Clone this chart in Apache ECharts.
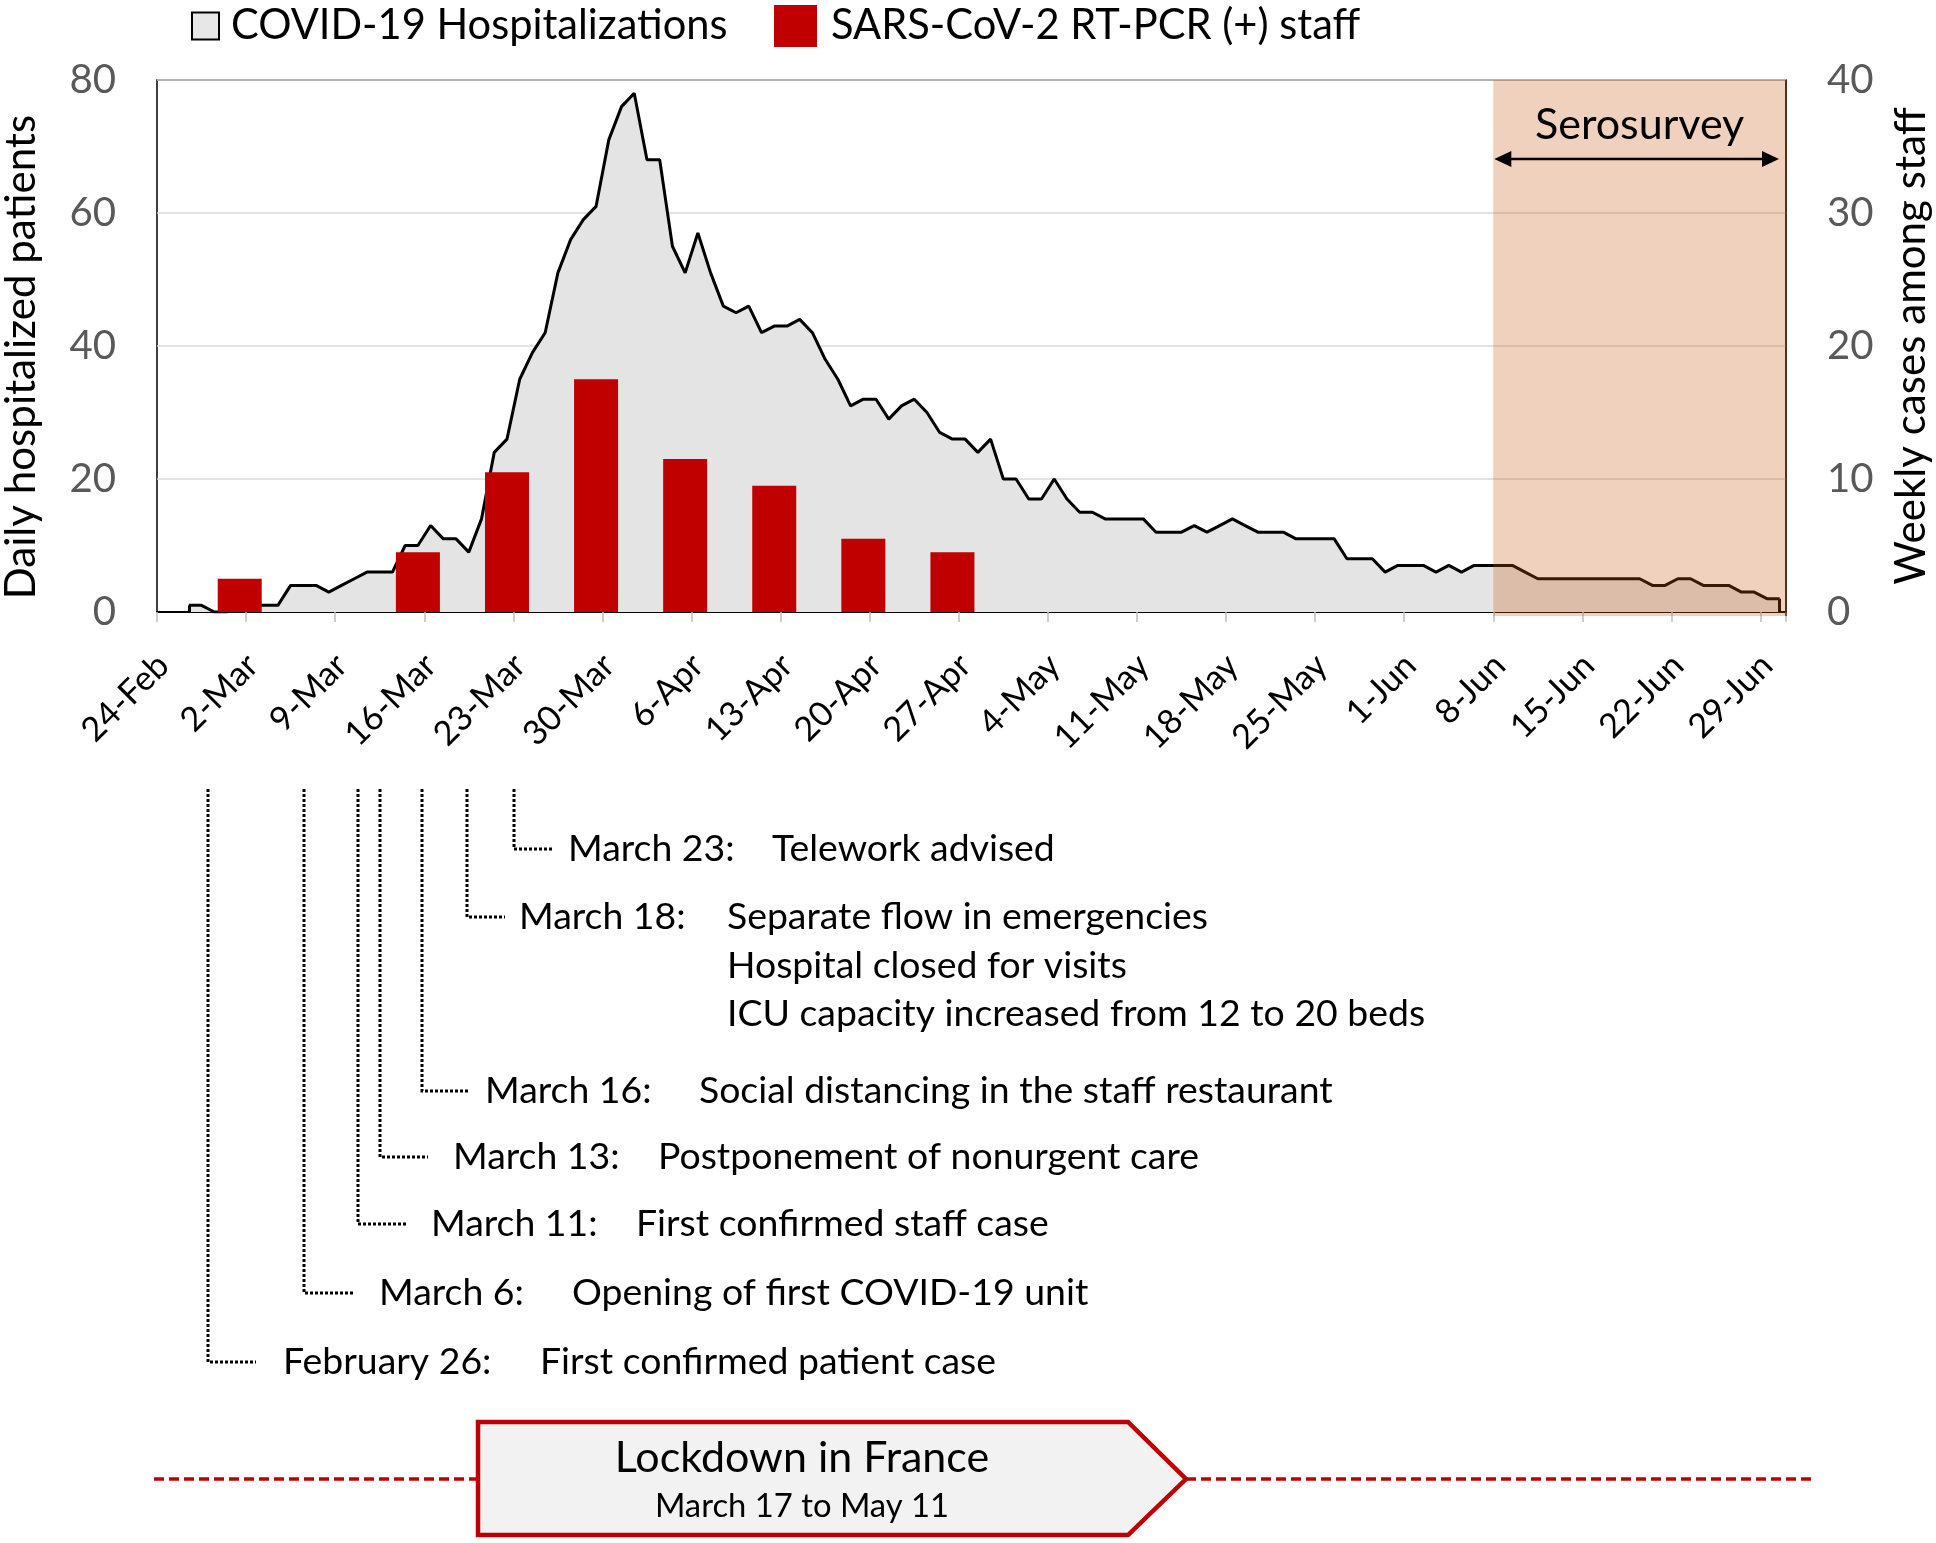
<!DOCTYPE html>
<html><head><meta charset="utf-8">
<script src="https://cdn.jsdelivr.net/npm/echarts@6/dist/echarts.min.js"></script>
<style>html,body{margin:0;padding:0;background:#fff}#c{width:1936px;height:1543px}</style>
</head><body><div id="c"></div>
<script>
// ---------- DATA ----------
const days = [
 '24-Feb','25-Feb','26-Feb','27-Feb','28-Feb','29-Feb',
 '1-Mar','2-Mar','3-Mar','4-Mar','5-Mar','6-Mar','7-Mar','8-Mar','9-Mar','10-Mar','11-Mar','12-Mar','13-Mar','14-Mar','15-Mar','16-Mar','17-Mar','18-Mar','19-Mar','20-Mar','21-Mar','22-Mar','23-Mar','24-Mar','25-Mar','26-Mar','27-Mar','28-Mar','29-Mar','30-Mar','31-Mar',
 '1-Apr','2-Apr','3-Apr','4-Apr','5-Apr','6-Apr','7-Apr','8-Apr','9-Apr','10-Apr','11-Apr','12-Apr','13-Apr','14-Apr','15-Apr','16-Apr','17-Apr','18-Apr','19-Apr','20-Apr','21-Apr','22-Apr','23-Apr','24-Apr','25-Apr','26-Apr','27-Apr','28-Apr','29-Apr','30-Apr',
 '1-May','2-May','3-May','4-May','5-May','6-May','7-May','8-May','9-May','10-May','11-May','12-May','13-May','14-May','15-May','16-May','17-May','18-May','19-May','20-May','21-May','22-May','23-May','24-May','25-May','26-May','27-May','28-May','29-May','30-May','31-May',
 '1-Jun','2-Jun','3-Jun','4-Jun','5-Jun','6-Jun','7-Jun','8-Jun','9-Jun','10-Jun','11-Jun','12-Jun','13-Jun','14-Jun','15-Jun','16-Jun','17-Jun','18-Jun','19-Jun','20-Jun','21-Jun','22-Jun','23-Jun','24-Jun','25-Jun','26-Jun','27-Jun','28-Jun','29-Jun','30-Jun'
];
const tickLabels = ['24-Feb','2-Mar','9-Mar','16-Mar','23-Mar','30-Mar','6-Apr','13-Apr','20-Apr','27-Apr','4-May','11-May','18-May','25-May','1-Jun','8-Jun','15-Jun','22-Jun','29-Jun'];
const hospitalized = [
 null,null,1,1,0,0,1,1,1,1,
 4,4,4,3,4,5,6,6,6,10,
 10,13,11,11,9,14,24,26,35,39,
 42,51,56,59,61,71,76,78,68,68,
 55,51,57,51,46,45,46,42,43,43,
 44,42,38,35,31,32,32,29,31,32,
 30,27,26,26,24,26,20,20,17,17,
 20,17,15,15,14,14,14,14,12,12,
 12,13,12,13,14,13,12,12,12,11,
 11,11,11,8,8,8,6,7,7,7,
 6,7,6,7,7,7,7,6,5,5,
 5,5,5,5,5,5,5,4,4,5,
 5,4,4,4,3,3,2,2
];
const staffWeeks = ['1-Mar','8-Mar','15-Mar','22-Mar','29-Mar','5-Apr','12-Apr','19-Apr','26-Apr'];
const staffCases = [2.5,0,4.5,10.5,17.5,11.5,9.5,5.5,4.5];
const leftTicks = [0,20,40,60,80];
const rightTicks = [0,10,20,30,40];
const serosurveyStart = '8-Jun';
const serosurveyEnd = '30-Jun';

const annotations = [
 {date:'March 23:', lines:['Telework advised']},
 {date:'March 18:', lines:['Separate flow in emergencies','Hospital closed for visits','ICU capacity increased from 12 to 20 beds']},
 {date:'March 16:', lines:['Social distancing in the staff restaurant']},
 {date:'March 13:', lines:['Postponement of nonurgent care']},
 {date:'March 11:', lines:['First confirmed staff case']},
 {date:'March 6:', lines:['Opening of first COVID-19 unit']},
 {date:'February 26:', lines:['First confirmed patient case']}
];
// layout of the annotation block (pixels)
const annLayout = [
 {x:514, y:849, hx:552, dateX:568, textX:772},
 {x:467, y:917, hx:505, dateX:519, textX:727},
 {x:422, y:1091, hx:470, dateX:485, textX:699},
 {x:380, y:1157, hx:428, dateX:453, textX:658},
 {x:358, y:1224, hx:406, dateX:431, textX:636},
 {x:304, y:1293, hx:354, dateX:379, textX:572},
 {x:208, y:1362, hx:256, dateX:283, textX:540}
];

// ---------- FONT SIZING (Calibri-like sizes mapped to Lato) ----------
const FONT = 'Lato';
const mc = document.createElement('canvas').getContext('2d');
mc.font = '100px ' + FONT;
const K = 7.077 / (mc.measureText('Telework advised').width / 100);
const fs = c => Math.round(c * K * 10) / 10;

const staffData = days.map(d => { const k = staffWeeks.indexOf(d); return k >= 0 ? staffCases[k] : null; });
const firstDay = days[hospitalized.findIndex(v => v !== null)];
const lastDay = days[days.length - 1];

const chart = echarts.init(document.getElementById('c'), null, {renderer:'canvas'});
const option = {
  animation: false,
  backgroundColor: '#fff',
  textStyle: {fontFamily: FONT},
  grid: {left:157, right:150, top:80, bottom:931, show:true, borderColor:'#000', borderWidth:1.5, backgroundColor:'transparent', containLabel:false, outerBoundsMode:'none'},
  legend: [
    {left:191, top:5, padding:0, itemWidth:27, itemHeight:27, selectedMode:false, icon:'rect',
     data:[{name:'COVID-19 Hospitalizations', icon:'rect', itemStyle:{color:'#e7e7e7', borderColor:'#000', borderWidth:2}}],
     textStyle:{fontFamily:FONT, fontSize:fs(44.5), color:'#000', padding:[0,0,0,7]}},
    {left:774, top:5, padding:0, itemWidth:43, itemHeight:42, selectedMode:false, icon:'rect',
     data:[{name:'SARS-CoV-2 RT-PCR (+) staff', icon:'rect', itemStyle:{color:'#c00000'}}],
     textStyle:{fontFamily:FONT, fontSize:fs(44.5), color:'#000', padding:[0,0,0,9]}}
  ],
  xAxis: {
    type:'category', data: days, boundaryGap:true,
    axisLine:{show:true, lineStyle:{color:'#000', width:2}},
    axisTick:{show:true, interval:(i,v)=>tickLabels.includes(v), length:10, lineStyle:{color:'#bfbfbf', width:1.5}},
    axisLabel:{interval:(i,v)=>tickLabels.includes(v), rotate:45, fontFamily:FONT, fontSize:fs(36.5), color:'#000', margin:48},
    splitLine:{show:false}
  },
  yAxis: [
    {type:'value', min:leftTicks[0], max:leftTicks[leftTicks.length-1], interval:leftTicks[1]-leftTicks[0], position:'left',
     axisLine:{show:false}, axisTick:{show:false},
     axisLabel:{fontFamily:FONT, fontSize:fs(43), color:'#595959', margin:41},
     splitLine:{show:true, lineStyle:{color:'#d9d9d9', width:1.5}},
     name:'Daily hospitalized patients', nameLocation:'middle', nameRotate:90, nameGap:115,
     nameTextStyle:{fontFamily:FONT, fontSize:fs(45), color:'#000', padding:[0,22,0,0]}},
    {type:'value', min:rightTicks[0], max:rightTicks[rightTicks.length-1], interval:rightTicks[1]-rightTicks[0], position:'right',
     axisLine:{show:false}, axisTick:{show:false},
     axisLabel:{fontFamily:FONT, fontSize:fs(43), color:'#595959', margin:41},
     splitLine:{show:false},
     name:'Weekly cases among staff', nameLocation:'middle', nameRotate:90, nameGap:104,
     nameTextStyle:{fontFamily:FONT, fontSize:fs(45), color:'#000'}}
  ],
  series: [
    {name:'COVID-19 Hospitalizations', type:'line', yAxisIndex:0, data:hospitalized, symbol:'none',
     itemStyle:{color:'#000'}, lineStyle:{color:'#000', width:3}, areaStyle:{color:'#e4e4e4', opacity:1}, z:2,
     markLine:{silent:true, symbol:'none', label:{show:false}, lineStyle:{color:'#000', width:3, type:'solid'},
       data:[
         [{coord:[firstDay, hospitalized[days.indexOf(firstDay)]]}, {coord:[firstDay, 0]}],
         [{coord:[lastDay, hospitalized[days.length-1]]}, {coord:[lastDay, 0]}]
       ]}},
    {name:'SARS-CoV-2 RT-PCR (+) staff', type:'bar', yAxisIndex:1, data:staffData, barWidth:44,
     itemStyle:{color:'#c00000'}, z:3}
  ]
};
chart.setOption(option);

// ---------- Decorations (serosurvey, annotations, lockdown) ----------
const px = v => chart.convertToPixel({xAxisIndex:0}, v);
const band = px(days[1]) - px(days[0]);
const sx0 = px(serosurveyStart) - band/2;
const sx1 = px(serosurveyEnd) + band/2;
const sy0 = chart.convertToPixel({yAxisIndex:0}, leftTicks[leftTicks.length-1]);
const sy1 = chart.convertToPixel({yAxisIndex:0}, 0);
const ay = 159;
const g = [
  {type:'rect', z:100, silent:true, shape:{x:sx0, y:sy0, width:sx1-sx0, height:sy1-sy0+4}, style:{fill:'rgba(197,90,17,0.28)'}},
  {type:'line', z:100, silent:true, shape:{x1:sx1, y1:sy0, x2:sx1, y2:sy1+4}, style:{stroke:'#5a2a0a', lineWidth:1.5}},
  {type:'text', z:101, style:{text:'Serosurvey', x:(sx0+sx1)/2, y:125, align:'center', verticalAlign:'middle', fontFamily:FONT, fontSize:fs(46), fill:'#000'}},
  {type:'line', z:101, shape:{x1:sx0+8, y1:ay, x2:sx1-12, y2:ay}, style:{stroke:'#000', lineWidth:2.5}},
  {type:'polygon', z:101, shape:{points:[[sx0+1,ay],[sx0+18,ay-8],[sx0+18,ay+8]]}, style:{fill:'#000'}},
  {type:'polygon', z:101, shape:{points:[[sx1-7,ay],[sx1-24,ay-8],[sx1-24,ay+8]]}, style:{fill:'#000'}}
];
const DOT = [3, 2];
annotations.forEach((a, i) => {
  const L = annLayout[i];
  g.push({type:'polyline', silent:true, shape:{points:[[L.x,789],[L.x,L.y],[L.hx,L.y]]}, style:{stroke:'#000', lineWidth:3, lineDash:DOT, fill:null}});
  g.push({type:'text', style:{text:a.date, x:L.dateX, y:L.y, align:'left', verticalAlign:'middle', fontFamily:FONT, fontSize:fs(40), fill:'#000'}});
  a.lines.forEach((t, j) => g.push({type:'text', style:{text:t, x:L.textX, y:L.y + j*48.5, align:'left', verticalAlign:'middle', fontFamily:FONT, fontSize:fs(40), fill:'#000'}}));
});
// lockdown banner
g.push({type:'line', shape:{x1:154, y1:1479, x2:478, y2:1479}, style:{stroke:'#c00000', lineWidth:3.5, lineDash:[10,5]}});
g.push({type:'line', shape:{x1:1186, y1:1479, x2:1813, y2:1479}, style:{stroke:'#c00000', lineWidth:3.5, lineDash:[10,5]}});
g.push({type:'polygon', shape:{points:[[478,1422],[1128,1422],[1186,1479],[1128,1535],[478,1535]]}, style:{fill:'#f2f2f2', stroke:'#c00000', lineWidth:4.5}});
g.push({type:'text', style:{text:'Lockdown in France', x:802, y:1458, align:'center', verticalAlign:'middle', fontFamily:FONT, fontSize:fs(46), fill:'#000'}});
g.push({type:'text', style:{text:'March 17 to May 11', x:802, y:1506, align:'center', verticalAlign:'middle', fontFamily:FONT, fontSize:fs(35), fill:'#000'}});
chart.setOption({graphic: g});
</script></body></html>
